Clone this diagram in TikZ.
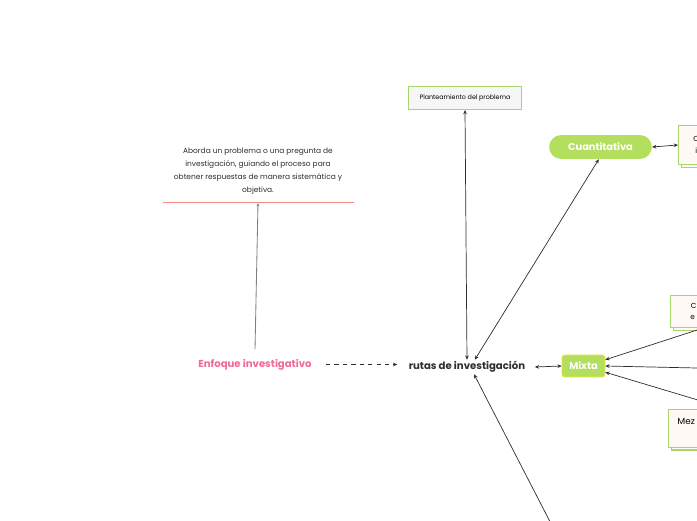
\documentclass[tikz,border=0pt]{standalone}
\usepackage{fontspec}
\setmainfont{Poppins}
\usetikzlibrary{arrows.meta, positioning, shadows}
\definecolor{limegreen}{HTML}{B4DE5E}
\definecolor{boxgreen}{HTML}{A6D66E}
\definecolor{boxfill}{HTML}{FFF9F6}
\definecolor{plainfill}{HTML}{F6F6F6}
\definecolor{pinktext}{HTML}{F06A96}
\definecolor{salmon}{HTML}{F28B82}
\definecolor{inkgray}{HTML}{2E2E2E}

\begin{document}
\begin{tikzpicture}[x=0.025cm, y=-0.025cm,
  link/.style={draw=inkgray, line width=0.5pt, {Stealth[length=3pt, width=2.6pt]}-{Stealth[length=3pt, width=2.6pt]}},
  into/.style={draw=inkgray, line width=0.5pt, -{Stealth[length=3pt, width=2.6pt]}},
  plainbox/.style={draw=boxgreen, line width=0.8pt, fill=plainfill, minimum width=80pt, minimum height=16.3pt, inner sep=0pt, font=\fontsize{4.5}{6}\selectfont},
  pill/.style={fill=limegreen, text=white, font=\fontsize{7}{8}\selectfont\bfseries, inner sep=0pt},
  sidebox/.style={draw=boxgreen, line width=0.8pt, fill=boxfill, anchor=north west, align=left, text width=60pt, inner xsep=0pt, font=\fontsize{5.2}{8}\selectfont, copy shadow={shadow xshift=2pt, shadow yshift=-2pt}}]
\clip (0,0) rectangle (697,520);
\fill[white] (0,0) rectangle (697,520);

% central topic and its idea
\node[font=\fontsize{7.2}{9}\selectfont\bfseries, text=inkgray, inner sep=1pt] (rutas) at (467,367) {rutas de investigación};
\node[font=\fontsize{7.2}{9}\selectfont\bfseries, text=pinktext, inner sep=1pt] (enfoque) at (255,364.5) {Enfoque investigativo};
\node[align=center, font=\fontsize{5.3}{9.3}\selectfont, text=inkgray] (desc) at (258,171)
  {Aborda un problema o una pregunta de\\investigación, guiando el proceso para\\obtener respuestas de manera sistemática y\\objetiva.};
\draw[salmon, line width=0.6pt] (163,202) -- (354,202);
\coordinate (descbase) at (258,203);

% branches
\node[plainbox] (plant) at (465,98) {Planteamiento del problema};
\node[pill, minimum width=73pt, minimum height=17pt, rounded corners=8.5pt] (cuant) at (600.5,147) {Cuantitativa};
\node[pill, minimum width=30.5pt, minimum height=15.6pt, rounded corners=2pt, draw=yellow!60!limegreen, line width=0.5pt] (mixta) at (583.5,366) {Mixta};
\coordinate (lower) at (562,545);

% boxes at the right edge
\node[sidebox, minimum height=27.6pt, inner ysep=4pt] (cbox) at (678,125) {\hspace*{10.5pt}C\\\hspace*{12pt}i};
\node[sidebox, minimum height=22.7pt, inner ysep=3pt] (ebox) at (670,295) {\hspace*{14.5pt}C\\\hspace*{14pt}e};
\node[sidebox, minimum height=25.5pt, inner ysep=6pt, font=\fontsize{6.3}{8}\selectfont] (mbox) at (668,409) {\hspace*{6.5pt}Mez\\ \strut};
\coordinate (r1) at (720,322.6);
\coordinate (r2) at (720,368.5);
\coordinate (r3) at (720,406.6);

% connectors
\draw[draw=gray, line width=0.6pt, -{Stealth[length=2.5pt, width=2pt]}] (enfoque.north) ++(0,-8) -- (descbase);
\draw[into, dashed, shorten <=9pt, shorten >=7pt] (enfoque.east) -- (enfoque.east -| rutas.west);
\draw[link] (plant.south) -- (rutas.north);
\draw[link] (rutas.43) -- (cuant.262);
\draw[link] (rutas.east) ++(8,0) -- (mixta.west);
\draw[link] (cuant.east) -- (cbox.west);
\draw[into] (lower) -- (rutas.-46);
\draw[into] (r1) -- (mixta.16);
\draw[into] (r2) -- (mixta.east);
\draw[into] (r3) -- (mixta.-16);
\end{tikzpicture}
\end{document}
